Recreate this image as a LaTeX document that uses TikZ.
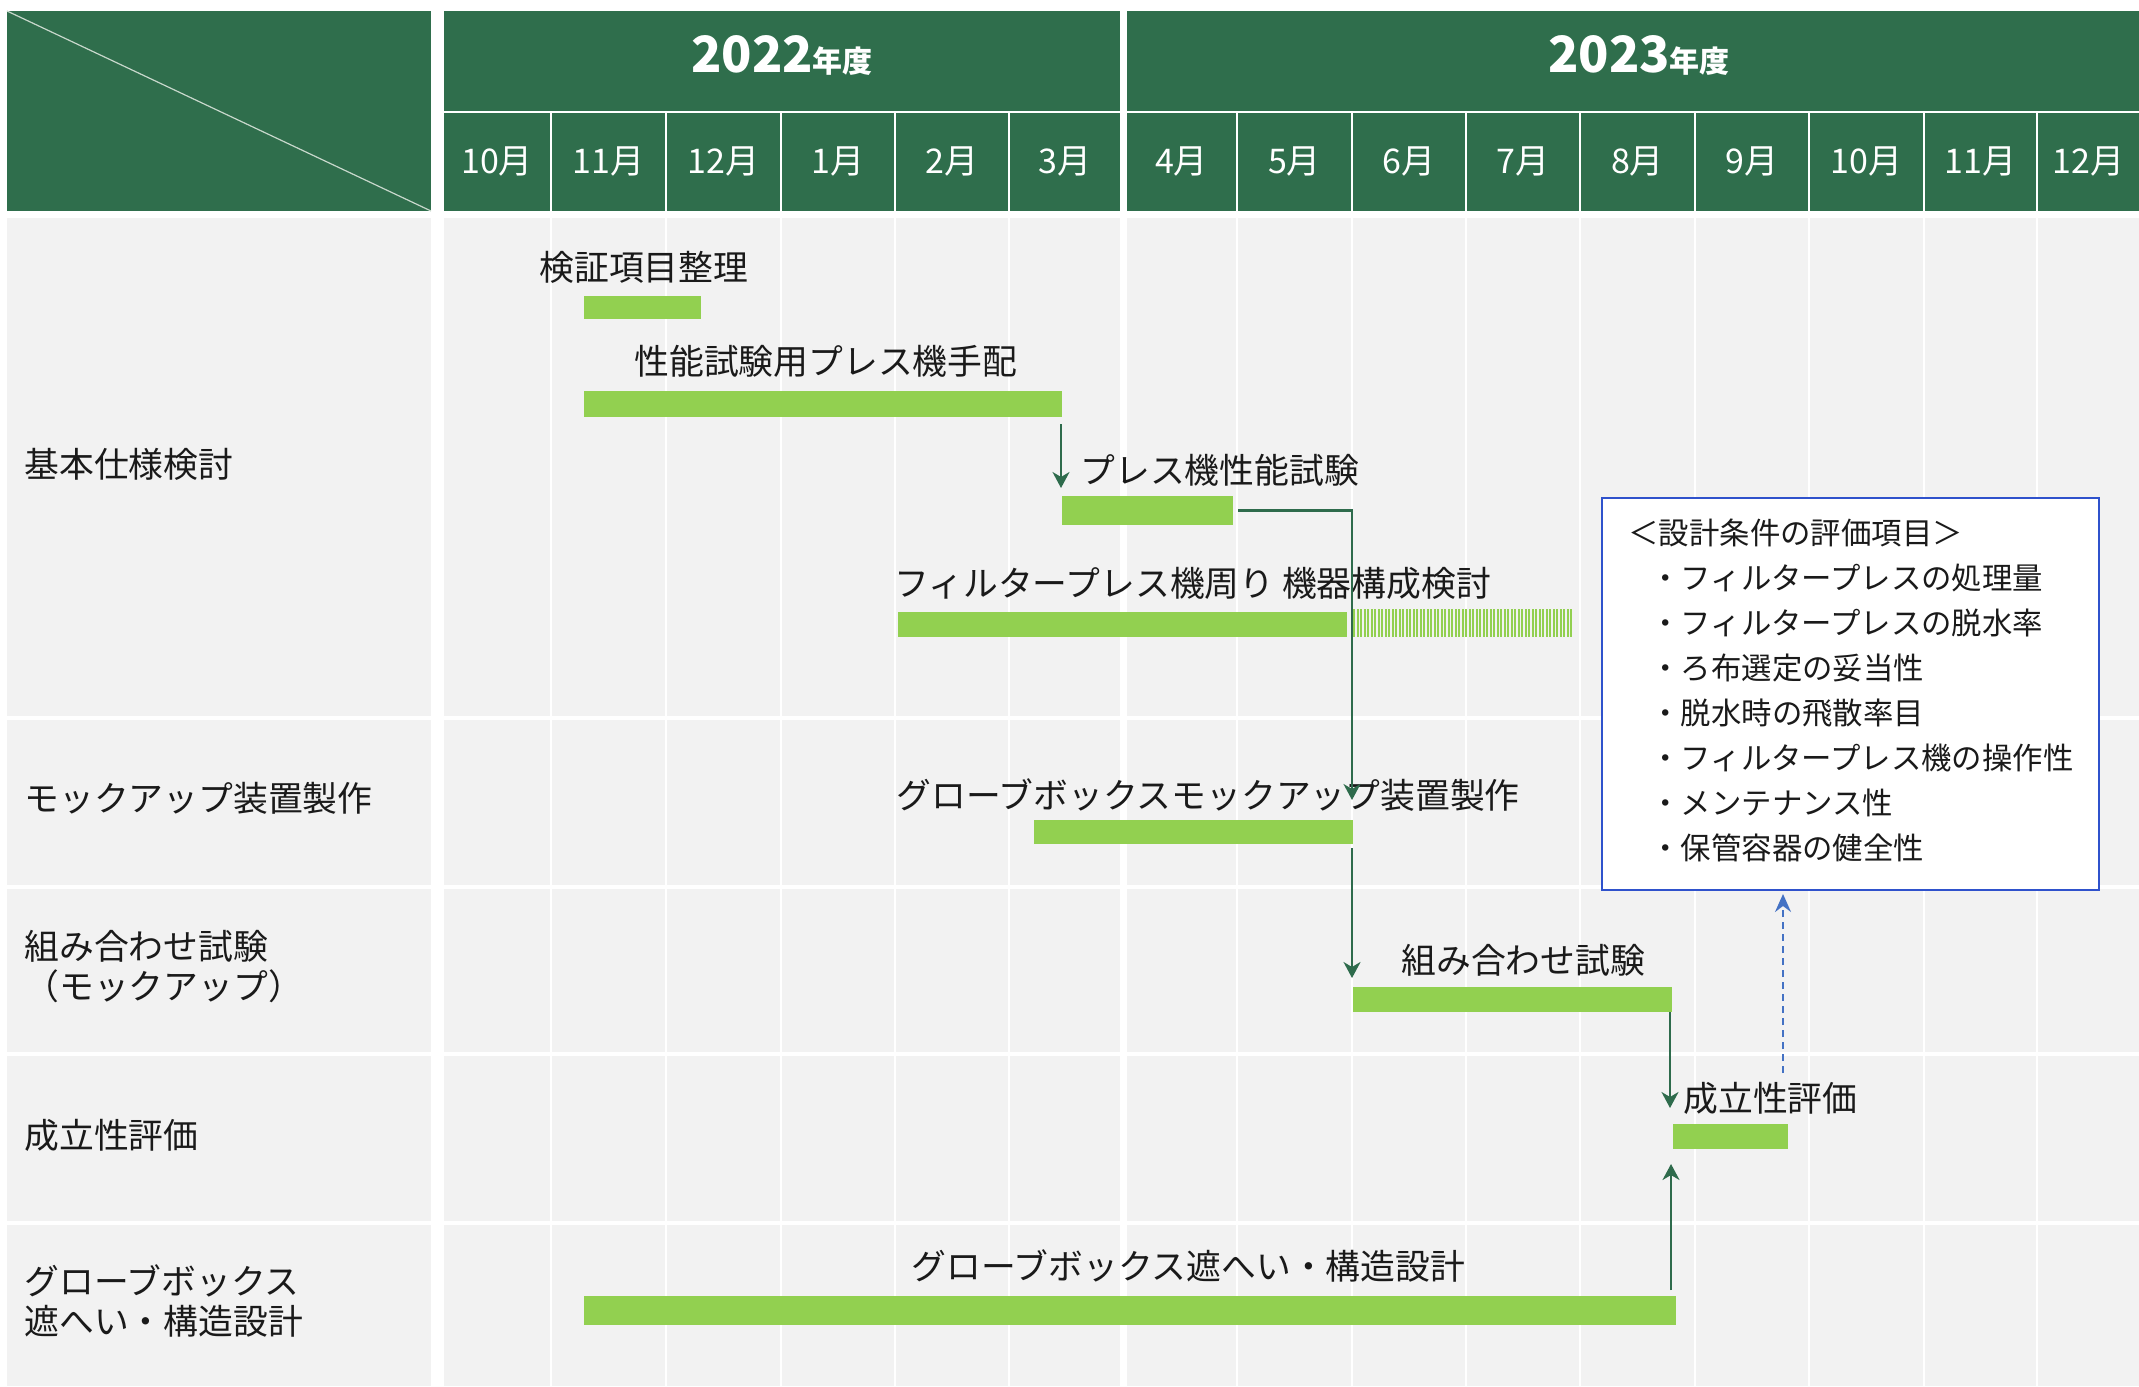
\documentclass[tikz,border=0pt]{standalone}
\usepackage{fontspec}
\setmainfont{Noto Sans CJK JP}
\usetikzlibrary{arrows.meta,calc,fit}
\definecolor{hdr}{HTML}{2F6E4C}
\definecolor{cellgray}{HTML}{F2F2F2}
\definecolor{bargreen}{HTML}{92D050}
\definecolor{arrgreen}{HTML}{2E6B4C}
\definecolor{dashblue}{HTML}{4472C4}
\definecolor{boxblue}{HTML}{2F52CC}
\definecolor{diagline}{HTML}{C8D8CC}
\definecolor{txt}{HTML}{1A1A1A}
\begin{document}
\begin{tikzpicture}[x=0.5pt,y=-0.5pt,
  bar/.style={fill=bargreen, inner sep=0pt, outer sep=0pt, draw=none},
  lbl/.style={anchor=west, inner sep=0pt, text=txt, font=\fontsize{17.4pt}{20pt}\selectfont},
  rowlbl/.style={lbl, align=left},
  boxtxt/.style={anchor=west, inner sep=0pt, text=txt, font=\fontsize{15.2pt}{18pt}\selectfont},
  month/.style={anchor=base, inner sep=0pt, text=white, font=\fontsize{17pt}{20pt}\selectfont},
  year/.style={anchor=base, inner sep=0pt, text=white, font=\bfseries},
  conn/.style={draw=arrgreen, line width=1.2pt, -{Stealth[length=8pt,width=8.5pt,inset=2.5pt]}},
  dasharr/.style={draw=dashblue, line width=0.9pt, dash pattern=on 3.5pt off 2.5pt, -{Stealth[length=9pt,width=8pt,inset=3pt]}},
  sepline/.style={draw=white, line width=1.3pt}
]
\useasboundingbox (0,0) rectangle (2139,1386);
\fill[white] (0,0) rectangle (2139,1386);

% ---------- header ----------
\fill[hdr] (7,11) rectangle (431,211);
\draw[diagline, line width=0.6pt] (7,11) -- (431,211);
\fill[hdr] (444,11) rectangle (1120,111);
\fill[hdr] (1127,11) rectangle (2139,111);
\node[year] (y22) at (782,73) {\fontsize{25pt}{28pt}\selectfont 2022\fontsize{15pt}{18pt}\selectfont 年度};
\node[year] (y23) at (1639,73) {\fontsize{25pt}{28pt}\selectfont 2023\fontsize{15pt}{18pt}\selectfont 年度};
\foreach \a/\b/\t [count=\i] in {444/550/10月, 552/665/11月, 667/780/12月, 782/894/1月, 896/1008/2月, 1010/1120/3月, 1127/1236/4月, 1238/1351/5月, 1353/1465/6月, 1467/1579/7月, 1581/1694/8月, 1696/1808/9月, 1810/1923/10月, 1925/2036/11月, 2038/2139/12月}{
  \fill[hdr] (\a,113) rectangle (\b,211);
  \node[month] (m\i) at ({(\a+\b)/2},173) {\t};
}

% ---------- body ----------
\foreach \ya/\yb in {218/716, 720/885, 889/1052, 1056/1221, 1225/1386}{
  \fill[cellgray] (7,\ya) rectangle (431,\yb);
  \fill[cellgray] (444,\ya) rectangle (1120,\yb);
  \fill[cellgray] (1127,\ya) rectangle (2139,\yb);
}
\foreach \x in {551,666,781,895,1009,1237,1352,1466,1580,1695,1809,1924,2037}{
  \draw[sepline] (\x,218) -- (\x,1386);
}

% row labels
\node[rowlbl] (r1) at (24,464) {基本仕様検討};
\node[rowlbl] (r2) at (24,798) {モックアップ装置製作};
\node[rowlbl] (r3) at (24,967) {組み合わせ試験\\（モックアップ）};
\node[rowlbl] (r4) at (24,1135) {成立性評価};
\node[rowlbl] (r5) at (24,1301) {グローブボックス\\遮へい・構造設計};

% bars
\node[bar, fit={(584,296)(701,319)}] (b1) {};
\node[bar, fit={(584,391)(1062,417)}] (b2) {};
\node[bar, fit={(1062,496)(1233,525)}] (b3) {};
\node[bar, fit={(898,612)(1347,637)}] (b4) {};
\foreach \i in {0,...,62}{
  \fill[bargreen] (1353+\i*3.5,609) rectangle ++(2.1,28);
}
\node[bar, fit={(1034,820)(1353,844)}] (b5) {};
\node[bar, fit={(1353,987)(1672,1012)}] (b6) {};
\node[bar, fit={(1673,1124)(1788,1149)}] (b7) {};
\node[bar, fit={(584,1296)(1676,1325)}] (b8) {};

% task labels
\node[lbl] (t1) at (539,267) {検証項目整理};
\node[lbl] (t2) at (634,361) {性能試験用プレス機手配};
\node[lbl] (t3) at (1080,470) {プレス機性能試験};
\node[lbl] (t4) at (894,583) {フィルタープレス機周り 機器構成検討};
\node[lbl] (t5) at (896,795) {グローブボックスモックアップ装置製作};
\node[lbl] (t6) at (1401,960) {組み合わせ試験};
\node[lbl] (t7) at (1683,1098) {成立性評価};
\node[lbl] (t8) at (911,1266) {グローブボックス遮へい・構造設計};

% connectors
\draw[conn] ($(b2.south east)+(-1,7)$) -- ($(b3.north west)+(-1,-8)$);
\draw[conn] ($(b3.east)+(5,0)$) -| ($(b5.north east)+(-1,-20)$);
\draw[conn] ($(b5.south east)+(-1,4)$) -- ($(b6.north west)+(-1,-9)$);
\draw[conn] ($(b6.south east)+(-2,0)$) -- ($(b7.north west)+(-3,-16)$);
\draw[conn] ($(b8.north east)+(-5,-6)$) -- ($(b7.south west)+(-2,15)$);

% evaluation box
\node[draw=boxblue, line width=1pt, fill=white, inner sep=0pt, fit={(1602,498)(2099,890)}] (box) {};
\node[boxtxt] (h0) at (1628,533) {＜設計条件の評価項目＞};
\node[boxtxt] (i1) at (1650,578) {・フィルタープレスの処理量};
\node[boxtxt] (i2) at (1650,623) {・フィルタープレスの脱水率};
\node[boxtxt] (i3) at (1650,668) {・ろ布選定の妥当性};
\node[boxtxt] (i4) at (1650,713) {・脱水時の飛散率目};
\node[boxtxt] (i5) at (1650,758) {・フィルタープレス機の操作性};
\node[boxtxt] (i6) at (1650,803) {・メンテナンス性};
\node[boxtxt] (i7) at (1650,848) {・保管容器の健全性};

\coordinate (d0) at ($(b7.north east)+(-5,-51)$);
\draw[dasharr] (d0) -- ($(d0 |- box.south)+(0,3)$);
\end{tikzpicture}
\end{document}
